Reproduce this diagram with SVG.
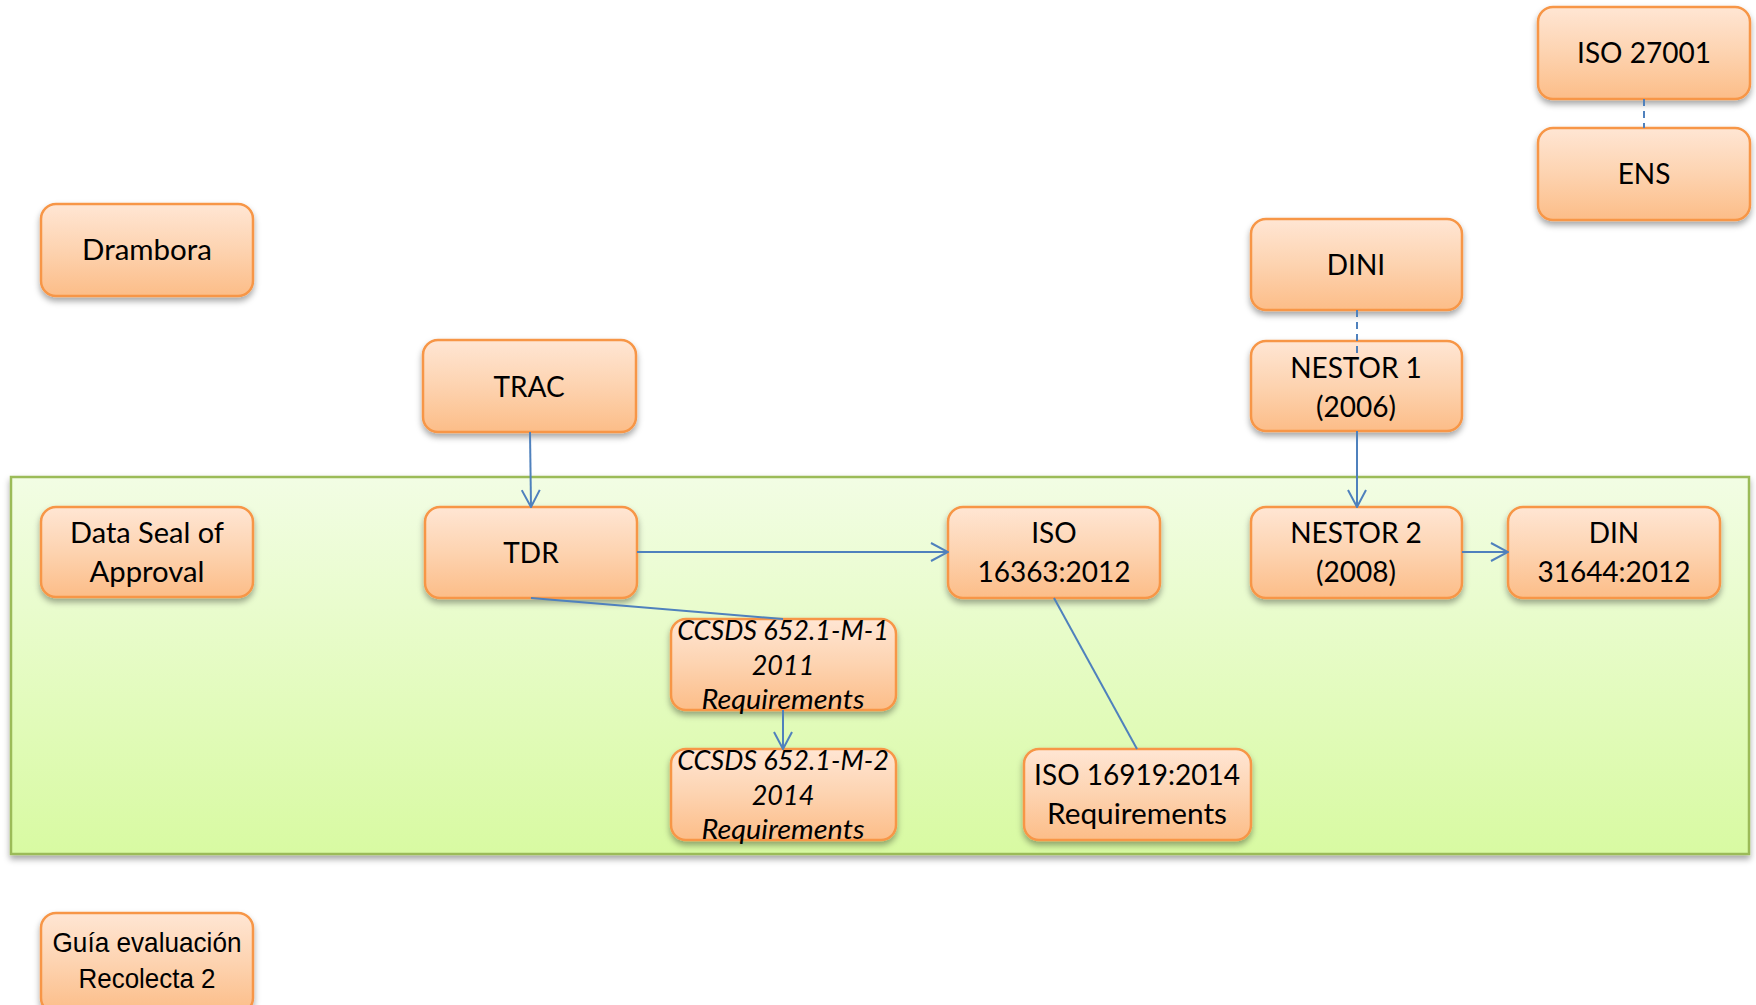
<svg xmlns="http://www.w3.org/2000/svg" width="1756" height="1005" viewBox="0 0 1756 1005">
<defs>
<linearGradient id="gBox" x1="0" y1="0" x2="0" y2="1">
<stop offset="0" stop-color="#FFE6D4"/>
<stop offset="0.5" stop-color="#FDD3B0"/>
<stop offset="1" stop-color="#FCBD88"/>
</linearGradient>
<linearGradient id="gGreen" x1="0" y1="0" x2="0" y2="1">
<stop offset="0" stop-color="#F2FDE4"/>
<stop offset="1" stop-color="#D8FAA2"/>
</linearGradient>
<filter id="sh" x="-10%" y="-10%" width="120%" height="130%">
<feDropShadow dx="0" dy="4" stdDeviation="3" flood-color="#000" flood-opacity="0.35"/>
</filter>
<marker id="arr" viewBox="0 0 20 20" refX="19" refY="10" markerWidth="20" markerHeight="20" markerUnits="userSpaceOnUse" orient="auto">
<path d="M2,1 L19,10 L2,19" fill="none" stroke="#4F81BD" stroke-width="2"/>
</marker>
</defs>
<style>
.box{fill:url(#gBox);stroke:#F79646;stroke-width:2.5;filter:url(#sh)}
.t{font-family:Lato,"Open Sans","Liberation Sans",sans-serif;font-size:28px;fill:#000;text-anchor:middle}
.ti{font-family:Lato,"Open Sans","Liberation Sans",sans-serif;font-size:27px;font-style:italic;fill:#000;text-anchor:middle}
.ta{font-family:"Liberation Sans",Arial,sans-serif;font-size:28px;fill:#000;text-anchor:middle}
.c{fill:none;stroke:#4F81BD;stroke-width:2}
.d{fill:none;stroke:#4F81BD;stroke-width:2;stroke-dasharray:7,5}
</style>
<rect width="1756" height="1005" fill="#FFFFFF"/>
<g id="container">
<rect x="11" y="477" width="1738" height="377" fill="url(#gGreen)" stroke="#9BBB59" stroke-width="2.5" filter="url(#sh)"/>
</g>
<g id="iso27001"><rect class="box" x="1538" y="7" width="212" height="92" rx="15"/><text class="t" x="1644" y="63">ISO 27001</text></g>
<g id="ens"><rect class="box" x="1538" y="128" width="212" height="92" rx="15"/><text class="t" x="1644" y="184">ENS</text></g>
<g id="drambora"><rect class="box" x="41" y="204" width="212" height="92" rx="15"/><text class="t" x="147" y="260" textLength="130" lengthAdjust="spacingAndGlyphs">Drambora</text></g>
<g id="dini"><rect class="box" x="1251" y="219" width="211" height="91" rx="15"/><text class="t" x="1356" y="275">DINI</text></g>
<g id="trac"><rect class="box" x="423" y="340" width="213" height="92" rx="15"/><text class="t" x="529" y="397">TRAC</text></g>
<g id="nestor1"><rect class="box" x="1251" y="341" width="211" height="90" rx="15"/><text class="t" x="1356" y="378">NESTOR 1</text><text class="t" x="1356" y="417">(2006)</text></g>
<g id="dsa"><rect class="box" x="41" y="507" width="212" height="90" rx="15"/><text class="t" x="147" y="543" textLength="154" lengthAdjust="spacingAndGlyphs">Data Seal of</text><text class="t" x="147" y="582" textLength="115" lengthAdjust="spacingAndGlyphs">Approval</text></g>
<g id="tdr"><rect class="box" x="425" y="507" width="212" height="91" rx="15"/><text class="t" x="531" y="563">TDR</text></g>
<g id="iso16363"><rect class="box" x="948" y="507" width="212" height="91" rx="15"/><text class="t" x="1054" y="543">ISO</text><text class="t" x="1054" y="582">16363:2012</text></g>
<g id="nestor2"><rect class="box" x="1251" y="507" width="211" height="91" rx="15"/><text class="t" x="1356" y="543">NESTOR 2</text><text class="t" x="1356" y="582">(2008)</text></g>
<g id="din"><rect class="box" x="1508" y="507" width="212" height="91" rx="15"/><text class="t" x="1614" y="543">DIN</text><text class="t" x="1614" y="582">31644:2012</text></g>
<g id="ccsds1"><rect class="box" x="671" y="619" width="225" height="91" rx="15"/><text class="ti" x="783" y="640">CCSDS 652.1-M-1</text><text class="ti" x="783" y="675">2011</text><text class="ti" x="783" y="709" textLength="163" lengthAdjust="spacingAndGlyphs">Requirements</text></g>
<g id="ccsds2"><rect class="box" x="671" y="749" width="225" height="91" rx="15"/><text class="ti" x="783" y="770">CCSDS 652.1-M-2</text><text class="ti" x="783" y="805">2014</text><text class="ti" x="783" y="839" textLength="163" lengthAdjust="spacingAndGlyphs">Requirements</text></g>
<g id="iso16919"><rect class="box" x="1024" y="749" width="227" height="91" rx="15"/><text class="t" x="1137" y="785">ISO 16919:2014</text><text class="t" x="1137" y="824" textLength="180" lengthAdjust="spacingAndGlyphs">Requirements</text></g>
<g id="guia"><rect class="box" x="41" y="913" width="212" height="100" rx="15"/><text class="ta" x="147" y="952" textLength="189" lengthAdjust="spacingAndGlyphs">Guía evaluación</text><text class="ta" x="147" y="988" textLength="137" lengthAdjust="spacingAndGlyphs">Recolecta 2</text></g>
<g id="connectors">
<line class="d" x1="1644" y1="99" x2="1644" y2="128"/>
<line class="d" x1="1357" y1="310" x2="1357" y2="355"/>
<line class="c" x1="530" y1="432" x2="531" y2="507" marker-end="url(#arr)"/>
<line class="c" x1="1357" y1="431" x2="1357" y2="507" marker-end="url(#arr)"/>
<line class="c" x1="637" y1="552" x2="948" y2="552" marker-end="url(#arr)"/>
<line class="c" x1="1462" y1="552" x2="1508" y2="552" marker-end="url(#arr)"/>
<line class="c" x1="531" y1="598" x2="783" y2="619"/>
<line class="c" x1="783" y1="710" x2="783" y2="749" marker-end="url(#arr)"/>
<line class="c" x1="1054" y1="598" x2="1137" y2="749"/>
</g>
</svg>
